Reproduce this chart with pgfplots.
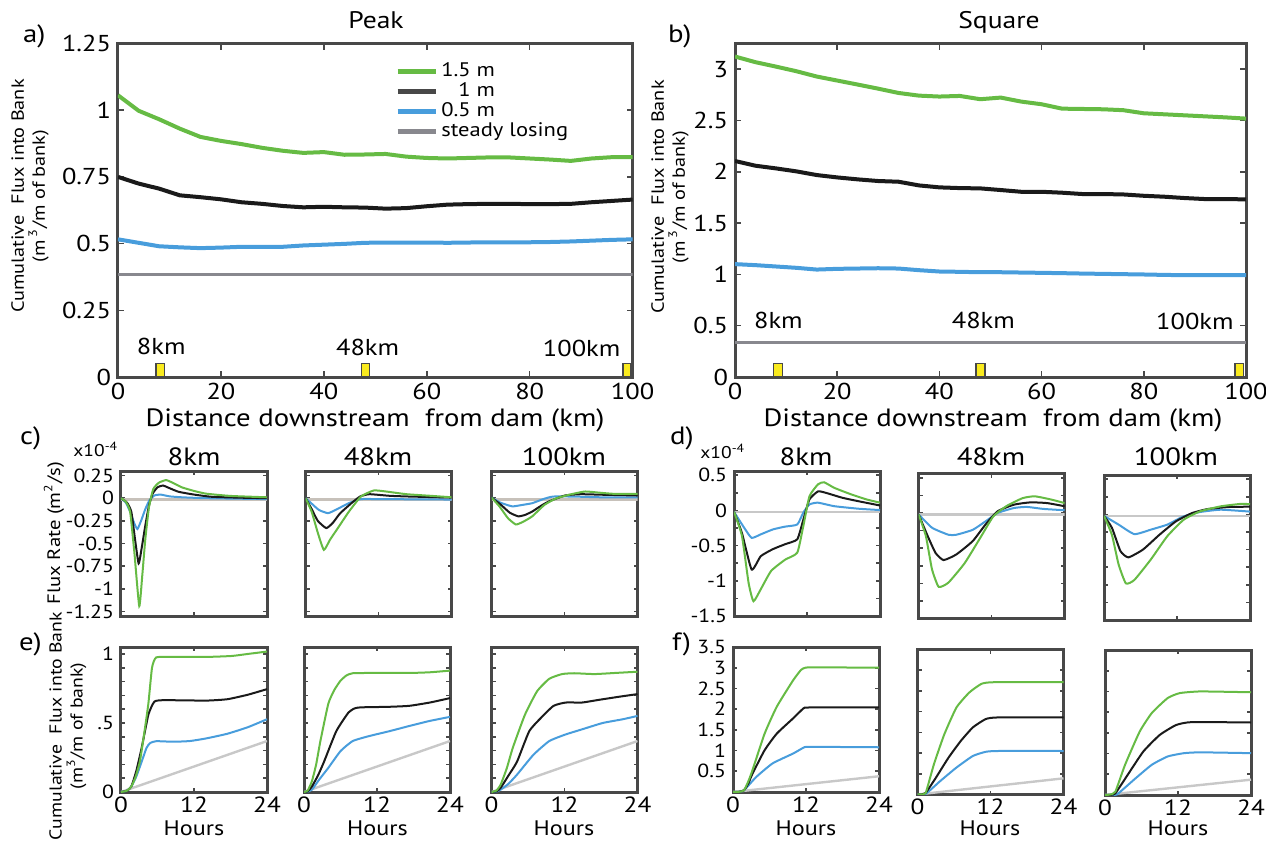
\documentclass[border=0pt]{standalone}
\usepackage{fontspec}
\setmainfont{PT Sans}[FakeStretch=1.15]
\usepackage{pgfplots}
\pgfplotsset{compat=1.18}
\definecolor{cg}{RGB}{102,187,68}
\definecolor{ck}{RGB}{26,26,26}
\definecolor{cb}{RGB}{72,157,220}
\definecolor{cs}{RGB}{136,136,142}
\definecolor{cl}{RGB}{200,200,200}
\definecolor{fr}{RGB}{72,72,72}
\definecolor{yl}{RGB}{250,235,30}
\newcommand\fs[1]{\fontsize{#1}{#1}\selectfont}
\pgfplotsset{
  base/.style={scale only axis, anchor=north west,
    axis line style={draw=fr, line width=1.5pt},
    tick style={draw=fr, line width=0.8pt}, tick align=inside,
    /pgf/number format/assume math mode=true},
  big/.style={base, width=257.3pt, height=166.75pt, xmin=0, xmax=100,
    xtick={0,20,...,100}, major tick length=3pt,
    tick label style={font=\fs{11.5}},
    xticklabel style={inner sep=0pt, yshift=-3pt}},
  small/.style={base, width=73pt, height=72.5pt, xmin=0, xmax=24,
    xtick={0,12,24}, major tick length=2pt,
    yticklabel style={font=\fs{9.5}},
    xticklabel style={font=\fs{11}, inner sep=0pt, yshift=-2pt}},
  cstyle/.style={small, ymin=-1.3, ymax=0.3, ytick={-1.25,-1,...,0.25},
    yticklabels={-1.25,-1,-0.75,-0.5,-0.25,0,0.25}, xticklabels={}},
  dstyle/.style={small, ymin=-1.5, ymax=0.56, ytick={-1.5,-1.25,...,0.5},
    yticklabels={-1.5,,-1,,-0.5,,0,,0.5}, xticklabels={}},
  estyle/.style={small, ymin=0, ymax=1.05, ytick={0,0.1,...,1.0},
    yticklabels={0,,,,,.5,,,,,1}},
  fstyle/.style={small, ymin=0, ymax=3.5, ytick={0,0.5,...,3.5},
    yticklabels={,0.5,1,1.5,2,2.5,3,3.5}},
  lg/.style={cg, line width=1pt},
  lk/.style={ck, line width=1pt},
  lb/.style={cb, line width=1pt},
  ll/.style={cl, line width=1.2pt},
}
\begin{document}
\begin{tikzpicture}
\useasboundingbox (0,0) rectangle (633pt,-420.5pt);
% ---------------- a ----------------
\begin{axis}[big, at={(59pt,-21.75pt)}, ymin=0, ymax=1.25,
  ytick={0,0.25,...,1.25}, yticklabels={0,0.25,0.5,0.75,1,1.25},
  legend style={draw=none, fill=none, font=\fs{9.8}, at={(axis cs:53.8,1.185)}, anchor=north west, row sep=0pt, inner sep=0pt,
    nodes={inner sep=0pt, text height=7.5pt, text depth=2.5pt}},
  legend cell align=left,
  legend image code/.code={\draw[#1, line width=2.4pt] (0pt,0pt) -- (19pt,0pt);}]
\addlegendimage{cg}\addlegendentry{\,1.5 m}
\addlegendimage{ck!80!white}\addlegendentry{\,\phantom{1.}1 m}
\addlegendimage{cb}\addlegendentry{\,0.5 m}
\addlegendimage{cs}\addlegendentry{\,steady losing}
\addplot[cs, line width=1.8pt, forget plot] coordinates {(0,0.384) (100,0.384)};
\addplot[cb, line width=2pt, forget plot] coordinates {(0,0.516) (4,0.503) (8,0.490) (12,0.486) (16,0.483) (20,0.485) (24,0.488) (28,0.488) (32,0.488) (36,0.493) (40,0.496) (44,0.499) (48,0.503) (52,0.504) (56,0.504) (60,0.504) (64,0.503) (68,0.504) (72,0.505) (76,0.505) (80,0.505) (84,0.506) (88,0.508) (92,0.511) (96,0.514) (100,0.516)};
\addplot[ck, line width=2pt, forget plot] coordinates {(0,0.750) (4,0.725) (8,0.706) (12,0.681) (16,0.674) (20,0.666) (24,0.655) (28,0.649) (32,0.641) (36,0.636) (40,0.638) (44,0.636) (48,0.635) (52,0.631) (56,0.633) (60,0.640) (64,0.646) (68,0.648) (72,0.649) (76,0.649) (80,0.648) (84,0.648) (88,0.649) (92,0.655) (96,0.660) (100,0.665)};
\addplot[cg, line width=2pt, forget plot] coordinates {(0,1.056) (4,0.998) (8,0.966) (12,0.931) (16,0.900) (20,0.885) (24,0.873) (28,0.859) (32,0.848) (36,0.840) (40,0.843) (44,0.833) (48,0.834) (52,0.836) (56,0.826) (60,0.821) (64,0.819) (68,0.821) (72,0.823) (76,0.823) (80,0.819) (84,0.815) (88,0.810) (92,0.819) (96,0.824) (100,0.824)};
\addplot[fill=yl, draw=fr, line width=0.8pt, forget plot] coordinates {(7.4,0) (7.4,0.05) (9.0,0.05) (9.0,0)} -- cycle;
\addplot[fill=yl, draw=fr, line width=0.8pt, forget plot] coordinates {(47.3,0) (47.3,0.05) (48.9,0.05) (48.9,0)} -- cycle;
\addplot[fill=yl, draw=fr, line width=0.8pt, forget plot] coordinates {(98.1,0) (98.1,0.05) (99.7,0.05) (99.7,0)} -- cycle;
\node[font=\fs{11.5}, anchor=base] at (axis cs:8.4,0.085) {8km};
\node[font=\fs{11.5}, anchor=base] at (axis cs:48.5,0.081) {48km};
\node[font=\fs{11.5}, anchor=base] at (axis cs:90.1,0.075) {100km};
\end{axis}
% ---------------- b ----------------
\begin{axis}[big, at={(367.5pt,-21.75pt)}, width=255.5pt, ymin=0, ymax=3.25,
  ytick={0,0.5,...,3}, yticklabels={0,0.5,1,1.5,2,2.5,3}]
\addplot[cs, line width=1.8pt] coordinates {(0,0.335) (100,0.335)};
\addplot[cb, line width=2pt] coordinates {(0,1.100) (4,1.090) (8,1.077) (12,1.064) (16,1.047) (20,1.054) (24,1.057) (28,1.060) (32,1.057) (36,1.041) (40,1.028) (44,1.025) (48,1.021) (52,1.021) (56,1.018) (60,1.015) (64,1.012) (68,1.008) (72,1.005) (76,1.002) (80,0.999) (84,0.995) (88,0.992) (92,0.992) (96,0.992) (100,0.992)};
\addplot[ck, line width=2pt] coordinates {(0,2.105) (4,2.059) (8,2.033) (12,2.004) (16,1.968) (20,1.945) (24,1.926) (28,1.910) (32,1.903) (36,1.867) (40,1.848) (44,1.841) (48,1.838) (52,1.822) (56,1.805) (60,1.805) (64,1.796) (68,1.783) (72,1.783) (76,1.779) (80,1.766) (84,1.757) (88,1.744) (92,1.734) (96,1.734) (100,1.731)};
\addplot[cg, line width=2pt] coordinates {(0,3.123) (4,3.068) (8,3.025) (12,2.980) (16,2.928) (20,2.889) (24,2.850) (28,2.810) (32,2.768) (36,2.742) (40,2.733) (44,2.739) (48,2.707) (52,2.723) (56,2.684) (60,2.658) (64,2.615) (68,2.612) (72,2.609) (76,2.600) (80,2.570) (84,2.560) (88,2.550) (92,2.540) (96,2.530) (100,2.518)};
\addplot[fill=yl, draw=fr, line width=0.8pt] coordinates {(7.5,0) (7.5,0.13) (9.3,0.13) (9.3,0)} -- cycle;
\addplot[fill=yl, draw=fr, line width=0.8pt] coordinates {(47.2,0) (47.2,0.13) (48.9,0.13) (48.9,0)} -- cycle;
\addplot[fill=yl, draw=fr, line width=0.8pt] coordinates {(97.9,0) (97.9,0.13) (99.5,0.13) (99.5,0)} -- cycle;
\node[font=\fs{11.5}, anchor=base] at (axis cs:8.5,0.472) {8km};
\node[font=\fs{11.5}, anchor=base] at (axis cs:48.6,0.472) {48km};
\node[font=\fs{11.5}, anchor=base] at (axis cs:90,0.465) {100km};
\end{axis}
% ---------------- c ----------------
\begin{axis}[cstyle, at={(60.5pt,-235.5pt)}]
\addplot[ll, cl!90!brown] coordinates {(0,-0.015) (24,-0.015)};
\addplot[lb, smooth, tension=0.3] coordinates {(0,0) (0.8,-0.05) (1.5,-0.15) (2.2,-0.28) (2.7,-0.34) (3.3,-0.25) (4.0,-0.12) (4.7,-0.02) (5.5,0.03) (6.5,0.04) (8,0.02) (10,0.01) (14,0) (24,-0.01)};
\addplot[lk, smooth, tension=0.3] coordinates {(0,0) (1,-0.05) (1.7,-0.15) (2.3,-0.45) (2.9,-0.72) (3.4,-0.55) (4.0,-0.30) (4.6,-0.08) (5.2,0.05) (6.0,0.12) (6.9,0.14) (8,0.11) (9.5,0.07) (12,0.04) (15,0.015) (20,0.005) (24,0)};
\addplot[lg, smooth, tension=0.3] coordinates {(0,0) (0.8,-0.04) (1.5,-0.15) (2.2,-0.6) (3.0,-1.19) (3.5,-0.85) (4.0,-0.45) (4.6,-0.1) (5.3,0.1) (6.2,0.17) (7.4,0.2) (8.5,0.17) (10,0.12) (12,0.08) (14,0.05) (18,0.025) (24,0.01)};
\end{axis}
\begin{axis}[cstyle, at={(152.8pt,-235.5pt)}, yticklabels={}]
\addplot[ll, cl!90!brown] coordinates {(0,-0.015) (24,-0.015)};
\addplot[lb, smooth, tension=0.3] coordinates {(0,0) (1,-0.06) (2.2,-0.13) (3.7,-0.165) (5.2,-0.12) (7.1,-0.055) (9.1,-0.01) (12,-0.01) (24,-0.015)};
\addplot[lk, smooth, tension=0.3] coordinates {(0,0) (1,-0.12) (2,-0.25) (3.4,-0.33) (4.5,-0.27) (5.7,-0.165) (7.8,-0.04) (9,0.02) (10.5,0.044) (13.9,0.026) (17.2,0.018) (24,0.007)};
\addplot[lg, smooth, tension=0.3] coordinates {(0,0) (1,-0.15) (2,-0.38) (3.0,-0.57) (4,-0.46) (5.1,-0.35) (7.1,-0.15) (9.1,0.018) (11.2,0.085) (13.2,0.074) (16.6,0.044) (20.6,0.026) (24,0.01)};
\end{axis}
\begin{axis}[cstyle, at={(245.75pt,-235.5pt)}, yticklabels={}]
\addplot[ll, cl!90!brown] coordinates {(0,-0.015) (24,-0.015)};
\addplot[lb, smooth, tension=0.3] coordinates {(0,0.007) (1.5,-0.05) (3.4,-0.09) (5,-0.075) (6.7,-0.055) (8.5,-0.01) (10.1,0.018) (13.4,0.018) (18,0.01) (24,0.01)};
\addplot[lk, smooth, tension=0.3] coordinates {(0,0.007) (1.5,-0.07) (3,-0.16) (4.4,-0.2) (5.5,-0.185) (6.7,-0.147) (8,-0.09) (9.4,-0.037) (12.1,0.03) (14.7,0.044) (18.8,0.037) (24,0.03)};
\addplot[lg, smooth, tension=0.3] coordinates {(0,0.007) (1.3,-0.09) (2.7,-0.22) (4,-0.29) (5.2,-0.26) (6.7,-0.2) (8.7,-0.074) (10.7,0) (13.4,0.048) (15.4,0.074) (17.4,0.063) (20.1,0.048) (24,0.048)};
\end{axis}
% ---------------- d ----------------
\begin{axis}[dstyle, at={(367pt,-235.5pt)}]
\addplot[ll] coordinates {(0,-0.025) (24,-0.025)};
\addplot[lb, smooth, tension=0.3] coordinates {(0,-0.02) (1.7,-0.25) (2.9,-0.39) (4.4,-0.34) (6.4,-0.27) (8.4,-0.23) (10.4,-0.2) (11.4,-0.03) (12.4,0.085) (13.8,0.11) (16.5,0.06) (20.5,0.024) (24,0.005)};
\addplot[lk, smooth, tension=0.3] coordinates {(0,-0.02) (1.3,-0.32) (2.9,-0.84) (4.4,-0.65) (6.4,-0.55) (8.4,-0.48) (10.4,-0.41) (11.4,-0.13) (12.4,0.156) (13.8,0.27) (15.1,0.25) (17.8,0.18) (20.5,0.13) (24,0.07)};
\addplot[lg, smooth, tension=0.3] coordinates {(0,-0.02) (1.3,-0.36) (2.4,-1.03) (3.2,-1.29) (4.4,-1.12) (6.1,-0.86) (8.4,-0.70) (10.4,-0.60) (11.4,-0.22) (12.4,0.2) (13.8,0.37) (14.8,0.40) (16.5,0.32) (19.2,0.23) (21.8,0.156) (24,0.11)};
\end{axis}
\begin{axis}[dstyle, at={(459.3pt,-236.75pt)}, yticklabels={}]
\addplot[ll] coordinates {(0,-0.025) (24,-0.025)};
\addplot[lb, smooth, tension=0.3] coordinates {(0,-0.02) (2.2,-0.21) (4.9,-0.31) (6.2,-0.31) (8.9,-0.24) (11,-0.12) (13,0) (15.7,0.07) (17.8,0.085) (20.5,0.057) (24,0.038)};
\addplot[lk, smooth, tension=0.3] coordinates {(0,-0.02) (1.5,-0.33) (2.8,-0.57) (4.1,-0.67) (6.2,-0.59) (8.9,-0.40) (11,-0.165) (13,0.024) (15.7,0.118) (18.4,0.15) (21.1,0.14) (24,0.095)};
\addplot[lg, smooth, tension=0.3] coordinates {(0,-0.02) (1.2,-0.33) (2.2,-0.80) (3.3,-1.05) (4.9,-0.99) (7.6,-0.71) (10.3,-0.33) (12.3,-0.047) (14.4,0.095) (17.1,0.21) (19.1,0.236) (21.8,0.19) (24,0.14)};
\end{axis}
\begin{axis}[dstyle, at={(552pt,-237.5pt)}, yticklabels={}]
\addplot[ll] coordinates {(0,-0.025) (24,-0.025)};
\addplot[lb, smooth, tension=0.3] coordinates {(0,-0.02) (2.4,-0.145) (5.0,-0.28) (7.7,-0.216) (10.4,-0.145) (13.1,-0.027) (15.8,0.034) (19.2,0.067) (24,0.04)};
\addplot[lk, smooth, tension=0.3] coordinates {(0,-0.02) (1.3,-0.19) (2.7,-0.52) (4.0,-0.61) (6.4,-0.50) (9.1,-0.29) (11.8,-0.10) (14.5,0.02) (17.1,0.077) (20.5,0.105) (24,0.11)};
\addplot[lg, smooth, tension=0.3] coordinates {(0,-0.02) (1.3,-0.29) (2.4,-0.71) (3.6,-0.98) (5.0,-0.93) (7.7,-0.64) (10.4,-0.31) (13.1,-0.075) (15.8,0.044) (19.2,0.115) (22.5,0.15) (24,0.145)};
\end{axis}
% ---------------- e ----------------
\begin{axis}[estyle, at={(60.5pt,-323.5pt)}]
\addplot[ll] coordinates {(0,0) (24,0.369)};
\addplot[lb, smooth, tension=0.3] coordinates {(0,0) (1,0.01) (1.7,0.04) (2.5,0.11) (3.4,0.22) (4.2,0.32) (4.8,0.355) (5.8,0.368) (8.6,0.364) (11.3,0.369) (14,0.388) (17.5,0.422) (20.9,0.47) (24,0.527)};
\addplot[lk, smooth, tension=0.3] coordinates {(0,0) (1,0.01) (1.7,0.04) (2.5,0.15) (3.4,0.32) (4.5,0.56) (5.5,0.655) (7.2,0.665) (14,0.662) (17.5,0.672) (20.9,0.705) (24,0.745)};
\addplot[lg, smooth, tension=0.3] coordinates {(0,0) (1,0.01) (1.7,0.04) (2.4,0.11) (3.1,0.22) (3.8,0.42) (4.5,0.64) (5.1,0.9) (5.8,0.975) (8.6,0.978) (14,0.978) (18.2,0.985) (20.9,1.0) (24,1.017)};
\end{axis}
\begin{axis}[estyle, at={(152pt,-323.5pt)}, yticklabels={}]
\addplot[ll] coordinates {(0,0) (24,0.369)};
\addplot[lb, smooth, tension=0.3] coordinates {(0,0) (0.6,0.003) (1.3,0.017) (2.5,0.09) (4,0.175) (6,0.296) (8,0.369) (10.7,0.405) (14,0.44) (17.3,0.478) (20.7,0.515) (24,0.544)};
\addplot[lk, smooth, tension=0.3] coordinates {(0,0) (0.6,0.005) (1.3,0.04) (2.3,0.12) (3.3,0.22) (5.3,0.44) (7.3,0.575) (8.3,0.605) (9.3,0.613) (14,0.617) (17.3,0.624) (20.7,0.648) (24,0.68)};
\addplot[lg, smooth, tension=0.3] coordinates {(0,0) (0.6,0.01) (1.3,0.078) (2.0,0.2) (2.7,0.37) (4,0.64) (5,0.74) (6,0.806) (7,0.845) (8,0.86) (10.7,0.862) (17.3,0.862) (20.7,0.867) (24,0.879)};
\end{axis}
\begin{axis}[estyle, at={(245.75pt,-323.5pt)}, yticklabels={}]
\addplot[ll] coordinates {(0,0) (24,0.369)};
\addplot[lb, smooth, tension=0.3] coordinates {(0,0) (0.8,0.003) (1.5,0.017) (2.8,0.06) (4.2,0.126) (6.9,0.27) (9.5,0.369) (12.2,0.417) (14.9,0.454) (18.3,0.5) (21.6,0.527) (24,0.551)};
\addplot[lk, smooth, tension=0.3] coordinates {(0,0) (0.8,0.005) (1.5,0.03) (2.8,0.12) (4.2,0.22) (6.2,0.44) (8.2,0.54) (10.2,0.624) (12.2,0.648) (14.9,0.648) (17.6,0.667) (21,0.69) (24,0.709)};
\addplot[lg, smooth, tension=0.3] coordinates {(0,0) (0.8,0.01) (1.5,0.053) (2.5,0.17) (3.5,0.32) (5.5,0.56) (7.5,0.73) (9.5,0.82) (11.6,0.854) (13.6,0.86) (16.9,0.854) (20.3,0.862) (24,0.871)};
\end{axis}
% ---------------- f ----------------
\begin{axis}[fstyle, at={(366.5pt,-323.5pt)}]
\addplot[ll] coordinates {(0,0) (24,0.38)};
\addplot[lb, smooth, tension=0.3] coordinates {(0,0) (1,0.005) (1.8,0.04) (3.8,0.36) (6.5,0.69) (9.9,0.93) (11.6,1.07) (12.6,1.09) (24,1.08)};
\addplot[lk, smooth, tension=0.3] coordinates {(0,0) (1,0.005) (1.8,0.04) (2.5,0.2) (3.2,0.44) (5.2,1.01) (7.2,1.41) (9.9,1.78) (11.6,2.02) (12.6,2.04) (24,2.04)};
\addplot[lg, smooth, tension=0.3] coordinates {(0,0) (1,0.005) (1.8,0.04) (2.5,0.25) (3.2,0.525) (5.2,1.41) (7.2,2.06) (9.9,2.7) (11.2,2.95) (11.9,3.0) (13.2,3.01) (24,3.0)};
\end{axis}
\begin{axis}[fstyle, at={(458.75pt,-324.75pt)}, yticklabels={}]
\addplot[ll] coordinates {(0,0) (24,0.39)};
\addplot[lb, smooth, tension=0.3] coordinates {(0,0) (1.35,0.016) (3.7,0.32) (6.4,0.65) (9.1,0.93) (11.2,1.03) (13.2,1.05) (24,1.05)};
\addplot[lk, smooth, tension=0.3] coordinates {(0,0) (0.6,0.003) (1.35,0.04) (3,0.4) (5.1,0.89) (7.1,1.29) (9.1,1.62) (11.2,1.82) (13.2,1.86) (24,1.86)};
\addplot[lg, smooth, tension=0.3] coordinates {(0,0) (0.6,0.005) (1.35,0.04) (2.7,0.73) (4.4,1.45) (6.4,2.1) (8.5,2.46) (10.5,2.67) (12.5,2.71) (24,2.71)};
\end{axis}
\begin{axis}[fstyle, at={(552.5pt,-325pt)}, yticklabels={}]
\addplot[ll] coordinates {(0,0) (24,0.37)};
\addplot[lb, smooth, tension=0.3] coordinates {(0,0) (1.2,0.005) (2,0.016) (5,0.4) (7.7,0.73) (10.3,0.93) (13,1.01) (15.7,1.03) (24,1.01)};
\addplot[lk, smooth, tension=0.3] coordinates {(0,0) (1,0.005) (1.7,0.04) (3.7,0.48) (6.3,1.05) (9,1.45) (11.7,1.69) (14.3,1.76) (24,1.75)};
\addplot[lg, smooth, tension=0.3] coordinates {(0,0) (0.8,0.01) (1.7,0.08) (3.3,0.73) (5.7,1.53) (7.7,1.98) (10.3,2.34) (12.3,2.46) (15.7,2.5) (24,2.48)};
\end{axis}
% ---------------- texts ----------------
\node[font=\fs{12}, anchor=base] at (188pt,-14pt) {Peak};
\node[font=\fs{12}, anchor=base] at (499.5pt,-14pt) {Square};
\node[font=\fs{12.5}, anchor=base west] at (8pt,-21pt) {a)};
\node[font=\fs{12.5}, anchor=base west] at (330.5pt,-21pt) {b)};
\node[font=\fs{12.5}, anchor=base west] at (6.5pt,-222pt) {c)};
\node[font=\fs{12.5}, anchor=base west] at (331.5pt,-222pt) {d)};
\node[font=\fs{12.5}, anchor=base west] at (6pt,-325pt) {e)};
\node[font=\fs{12.5}, anchor=base west] at (332.5pt,-325pt) {f)};
\node[font=\fs{12.5}, anchor=base, inner sep=0pt] at (187.5pt,-213pt) {Distance downstream~ from dam (km)};
\node[font=\fs{12.5}, anchor=base, inner sep=0pt] at (496.5pt,-213pt) {Distance downstream~ from dam (km)};
\node[font=\fontsize{8.8}{10.5}\selectfont, rotate=90, align=center, inner sep=1pt] at (15pt,-98pt) {Cumulative~ Flux into Bank\\(m\,\textsuperscript{3}/m of bank)};
\node[font=\fontsize{8.8}{10.5}\selectfont, rotate=90, align=center, inner sep=1pt] at (335pt,-98.5pt) {Cumulative~ Flux into Bank\\(m\,\textsuperscript{3}/m of bank)};
\node[font=\fs{9}, rotate=90, inner sep=1pt] at (27pt,-266.5pt) {Flux Rate (m\textsuperscript{2}/s)};
\node[font=\fontsize{8.6}{10.5}\selectfont, rotate=90, align=center, inner sep=1pt] at (34pt,-363pt) {Cumulative~ Flux into Bank\\(m\textsuperscript{3}/m of bank)};
\node[font=\fs{8.5}, anchor=base west, inner sep=0pt] at (36.5pt,-228pt) {x10\textsuperscript{-4}};
\node[font=\fs{8.5}, anchor=base west, inner sep=0pt] at (350pt,-229pt) {x10\textsuperscript{-4}};
\foreach \x/\t in {97/8km,189/48km,282/100km,403/8km,495.5/48km,588/100km}
  \node[font=\fs{12.5}, anchor=base, inner sep=0pt] at (\x pt,-232.5pt) {\t};
\foreach \x in {97,188.75,282,403,495,589}
  \node[font=\fs{10.5}, anchor=base, inner sep=0pt] at (\x pt,-417.5pt) {Hours};
\end{tikzpicture}
\end{document}
